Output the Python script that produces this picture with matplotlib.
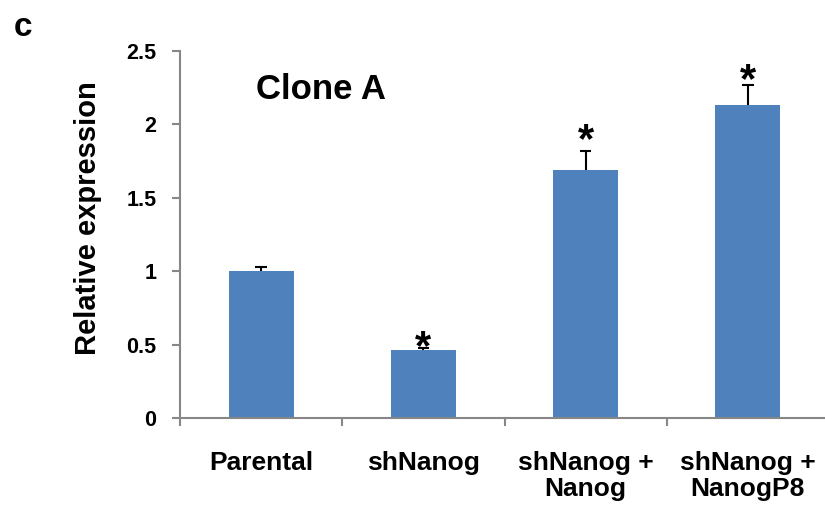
import numpy as np
import matplotlib.pyplot as plt

categories = ["Parental", "shNanog", "shNanog +\nNanog", "shNanog +\nNanogP8"]
values = [1.0, 0.465, 1.69, 2.13]
errors = [0.03, 0.01, 0.13, 0.14]
# heights of the significance stars (None = no star)
star_y = [None, 0.53, 1.94, 2.35]
yticks = [0, 0.5, 1, 1.5, 2, 2.5]
ytick_labels = ["0", "0.5", "1", "1.5", "2", "2.5"]

plt.rcParams["font.family"] = ["Liberation Sans", "DejaVu Sans"]
plt.rcParams["font.weight"] = "bold"

fig = plt.figure(figsize=(8.25, 5.05), dpi=100)
ax = fig.add_axes([180 / 825, 87 / 505, 649 / 825, 367 / 505])

bar_color = "#4F81BD"
axis_color = "#878787"
x = np.arange(len(categories))
tops = np.array(values) + np.array(errors)

ax.bar(x, values, width=0.4, color=bar_color, zorder=2)
# upper-only error bars with a cap
ax.vlines(x, values, tops, color="black", linewidth=1.5, zorder=3)
ax.hlines(tops, x - 0.035, x + 0.035, color="black", linewidth=1.5, zorder=3)

# the glyph sits high in its box, so nudge it down to centre the ink
for xi, sy in zip(x, star_y):
    if sy is not None:
        ax.annotate("*", (xi, sy), xytext=(0, -5.5), textcoords="offset points",
                    ha="center", va="center", fontsize=30, fontweight="bold",
                    zorder=4)

ax.set_xlim(-0.5, 3.5)
ax.set_ylim(0, 2.5)
ax.set_yticks(yticks)
ax.set_yticklabels(ytick_labels, fontsize=15.5, fontweight="bold")

# category ticks sit on the boundaries, labels at the centers
ax.set_xticks(np.arange(-0.5, 3.5, 1.0))
ax.set_xticklabels([])
ax.set_xticks(x, minor=True)
ax.set_xticklabels(categories, minor=True, fontsize=19, fontweight="bold",
                   linespacing=1.1)
ax.tick_params(axis="x", which="minor", length=0, pad=24)
ax.tick_params(axis="x", which="major", length=6, width=1.5, color=axis_color,
               direction="out")
ax.tick_params(axis="y", length=6, width=1.5, color=axis_color, pad=11)

for side in ["top", "right"]:
    ax.spines[side].set_visible(False)
for side in ["left", "bottom"]:
    ax.spines[side].set_color(axis_color)
    ax.spines[side].set_linewidth(1.5)

ax.set_ylabel("Relative expression", fontsize=21, fontweight="bold")
ax.yaxis.set_label_coords(-0.12, 0.545)
ax.text(0.37, 2.24, "Clone A", fontsize=25, fontweight="bold", ha="center",
        va="center")
fig.text(23 / 825, 1 - 27 / 505, "c", fontsize=24, fontweight="bold",
         ha="center", va="center")

fig.savefig("out.png", dpi=100)
